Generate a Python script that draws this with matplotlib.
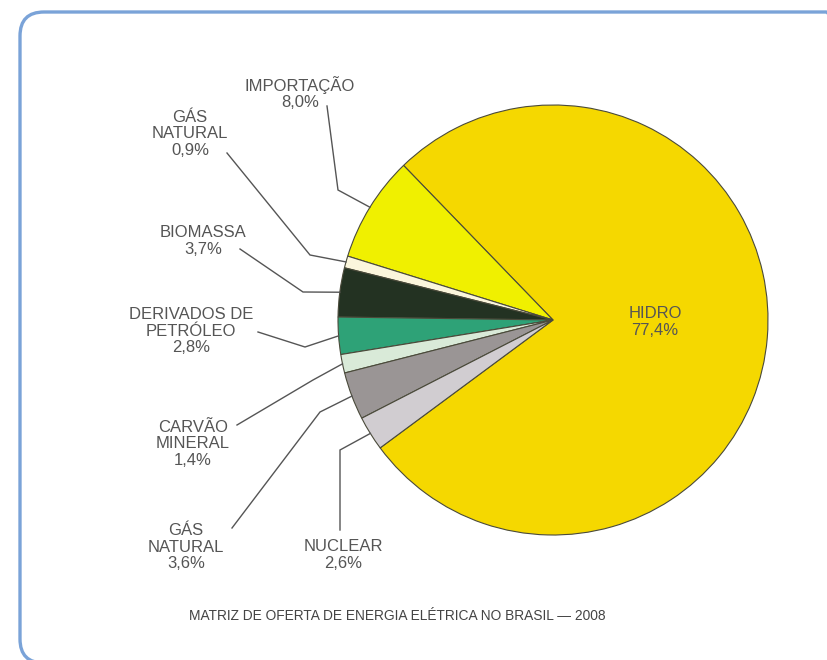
import numpy as np
import matplotlib
matplotlib.use("Agg")
from matplotlib import pyplot as plt
from matplotlib.patches import FancyBboxPatch

labels = ['HIDRO', 'IMPORTAÇÃO', 'GÁS\nNATURAL', 'BIOMASSA', 'DERIVADOS DE\nPETRÓLEO',
          'CARVÃO\nMINERAL', 'GÁS\nNATURAL', 'NUCLEAR']
values = [77.4, 8.0, 0.9, 3.7, 2.8, 1.4, 3.6, 2.6]
pct_text = ['77,4%', '8,0%', '0,9%', '3,7%', '2,8%', '1,4%', '3,6%', '2,6%']
colors = ['#f5d800', '#f0f000', '#fbf6dc', '#233222', '#2ea277',
          '#d9ead8', '#9a9595', '#d1cdd1']
title = 'MATRIZ DE OFERTA DE ENERGIA ELÉTRICA NO BRASIL — 2008'

W, H = 827, 660
plt.rcParams['font.family'] = ['Liberation Sans', 'DejaVu Sans']
fig = plt.figure(figsize=(W / 100, H / 100), dpi=100)
ax = fig.add_axes([0, 0, 1, 1])

# rounded frame (runs off the right edge, bottom just at the edge)
frame = FancyBboxPatch((20, -3), 830, H - 12 + 3, boxstyle='round,pad=0,rounding_size=24',
                       fill=False, ec='#7aa3d8', lw=2.4)
ax.add_patch(frame)

cx, cy, r = 553, H - 320, 215
wedges, _ = ax.pie(values, colors=colors, startangle=-143.5, counterclock=True,
                   center=(cx, cy), radius=r, frame=True,
                   wedgeprops=dict(edgecolor='#4a4a3a', linewidth=0.8))
ax.set_xlim(0, W)
ax.set_ylim(0, H)
ax.set_aspect('equal')
ax.axis('off')

txt = dict(color='#555555', fontsize=12, ha='center', va='center', linespacing=1.15)

# HIDRO label inside
ax.text(655, H - 322, labels[0] + '\n' + pct_text[0], **txt)

# outside labels: (label centre, line start, elbow) in pixel layout coords
layout = {
    1: ((300, 93), (327, 106), (338, 190)),
    2: ((190, 134), (227, 153), (310, 255)),
    3: ((203, 241), (240, 249), (303, 292)),
    4: ((191, 331), (258, 332), (305, 347)),
    5: ((193, 444), (237, 425), (313, 380)),
    6: ((186, 547), (232, 528), (320, 412)),
    7: ((343, 555), (340, 530), (340, 450)),
}
for i, (lab, start, elbow) in layout.items():
    ax.text(lab[0], H - lab[1], labels[i] + '\n' + pct_text[i], **txt)
    w = wedges[i]
    ang = np.deg2rad((w.theta1 + w.theta2) / 2)
    ex, ey = cx + r * np.cos(ang), cy + r * np.sin(ang)
    ax.plot([start[0], elbow[0], ex], [H - start[1], H - elbow[1], ey],
            color='#555555', lw=1.0, solid_joinstyle='miter')

ax.text(397, H - 616, title, color='#444444', fontsize=9.9, ha='center', va='center')

fig.savefig('out.png', dpi=100, facecolor='white')
